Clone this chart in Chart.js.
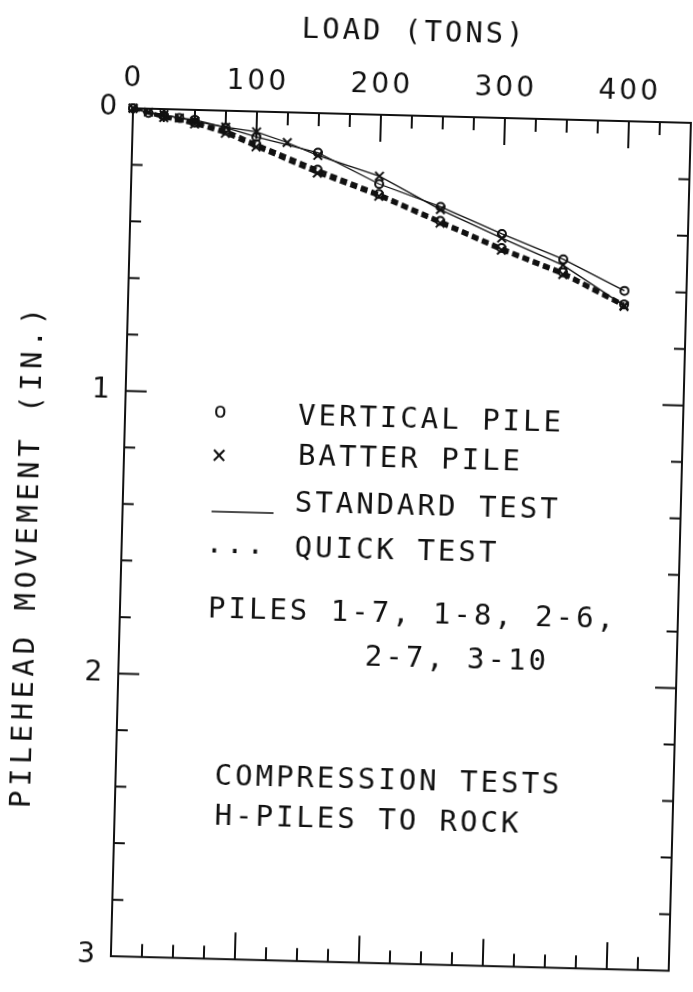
<!DOCTYPE html>
<html>
<head>
<meta charset="utf-8">
<script src="https://cdn.jsdelivr.net/npm/chart.js@4/dist/chart.umd.min.js"></script>
<style>
  html, body { margin: 0; padding: 0; background: #fff; overflow: hidden; }
  #wrap { width: 693px; height: 992px; }
  /* the scanned figure sits slightly skewed on the page */
  #pileChart { transform: rotate(1.5deg); transform-origin: 50% 50%; }
</style>
</head>
<body>
<div id="wrap"><canvas id="pileChart" width="693" height="992"></canvas></div>
<script>
// axis labels
const loadLabels = [0, 100, 200, 300, 400];
const moveLabels = [0, 1, 2, 3];

// vertical pile, standard test (o, thin solid)
const vertStdLoad = [0, 12.5, 25, 37.5, 50, 75, 100, 150, 200, 250, 300, 350, 400];
const vertStdMove = [0, 0.015, 0.022, 0.03, 0.035, 0.06, 0.09, 0.14, 0.245, 0.32, 0.41, 0.494, 0.60];

// batter pile, standard test (x, solid)
const batStdLoad = [0, 12.5, 25, 37.5, 50, 75, 100, 125, 150, 200, 250, 300, 350, 400];
const batStdMove = [0, 0.012, 0.02, 0.03, 0.04, 0.058, 0.072, 0.107, 0.15, 0.217, 0.33, 0.425, 0.515, 0.652];

// vertical pile, quick test (o, heavy dashed)
const vertQkLoad = [0, 25, 50, 75, 100, 150, 200, 250, 300, 350, 400];
const vertQkMove = [0, 0.025, 0.045, 0.07, 0.115, 0.2, 0.28, 0.37, 0.46, 0.54, 0.648];

// batter pile, quick test (x, heavy dashed)
const batQkLoad = [0, 25, 50, 75, 100, 150, 200, 250, 300, 350, 400];
const batQkMove = [0, 0.03, 0.05, 0.08, 0.125, 0.212, 0.288, 0.378, 0.468, 0.548, 0.655];

const ink = '#111';
const mono = "'DejaVu Sans Mono', monospace";

function toPoints(xs, ys) {
  return xs.map((x, i) => ({ x, y: ys[i] }));
}

function series(xs, ys, shape, dashed) {
  return {
    data: toPoints(xs, ys),
    showLine: true,
    borderColor: ink,
    borderWidth: dashed ? 3.5 : 1.3,
    borderDash: dashed ? [7, 4] : [],
    pointStyle: shape,
    pointRadius: shape === 'circle' ? 4 : 6,
    pointBorderWidth: 2,
    pointBorderColor: ink,
    pointBackgroundColor: 'rgba(255,255,255,0)',
    clip: 10
  };
}

// frame and inward tick marks on all four sides
const frameTicks = {
  id: 'frameTicks',
  beforeDraw(chart) {
    chart.ctx.letterSpacing = '3px';
  },
  beforeDatasetsDraw(chart) {
    const { ctx, chartArea: a, scales: { x, y } } = chart;
    ctx.save();
    ctx.strokeStyle = ink;
    ctx.lineWidth = 2;
    ctx.strokeRect(a.left, a.top, a.right - a.left, a.bottom - a.top);
    ctx.beginPath();
    x.ticks.forEach(t => {
      if (t.value <= 0 || t.value >= 450) return;
      const px = x.getPixelForValue(t.value);
      const len = t.value % 100 === 0 ? 27 : 13;
      ctx.moveTo(px, a.top); ctx.lineTo(px, a.top + len);
      ctx.moveTo(px, a.bottom); ctx.lineTo(px, a.bottom - len);
    });
    y.ticks.forEach(t => {
      if (t.value <= 0.01 || t.value >= 2.99) return;
      const py = y.getPixelForValue(t.value);
      const major = Math.abs(t.value - Math.round(t.value)) < 1e-6;
      const len = major ? 21 : 11;
      ctx.moveTo(a.left, py); ctx.lineTo(a.left + len, py);
      ctx.moveTo(a.right, py); ctx.lineTo(a.right - len, py);
    });
    ctx.stroke();
    ctx.restore();
  }
};

// key, notes and the vertical axis title
const notes = {
  id: 'notes',
  afterDraw(chart) {
    const ctx = chart.ctx;
    ctx.save();
    ctx.fillStyle = ink;
    ctx.strokeStyle = ink;
    ctx.letterSpacing = '3px';
    ctx.font = '29px ' + mono;
    ctx.textBaseline = 'alphabetic';
    ctx.textAlign = 'left';
    ctx.fillText('VERTICAL PILE', 296, 426);
    ctx.fillText('BATTER PILE', 297, 466);
    ctx.fillText('STANDARD TEST', 295, 513);
    ctx.fillText('...', 207, 556);
    ctx.fillText('QUICK TEST', 296, 558);
    ctx.fillText('PILES 1-7, 1-8, 2-6,', 211, 621);
    ctx.fillText('2-7, 3-10', 369, 665);
    ctx.fillText('COMPRESSION TESTS', 222, 788);
    ctx.fillText('H-PILES TO ROCK', 223, 828);

    // y title, a bit below the plot's middle as in the original
    ctx.save();
    ctx.translate(30, 566);
    ctx.rotate(-Math.PI / 2);
    ctx.letterSpacing = '4.5px';
    ctx.textAlign = 'center';
    ctx.textBaseline = 'middle';
    ctx.fillText('PILEHEAD MOVEMENT (IN.)', 2, 0);
    ctx.restore();

    ctx.letterSpacing = '0px';
    ctx.textAlign = 'center';
    ctx.font = '22px ' + mono;
    ctx.fillText('o', 218, 421);
    ctx.font = '26px ' + mono;
    ctx.fillText('\u00d7', 218, 467);
    ctx.lineWidth = 1.5;
    ctx.beginPath();
    ctx.moveTo(212, 515);
    ctx.lineTo(274, 515);
    ctx.stroke();
    ctx.restore();
  }
};

new Chart(document.getElementById('pileChart'), {
  type: 'scatter',
  data: {
    datasets: [
      series(vertStdLoad, vertStdMove, 'circle', false),
      series(batStdLoad, batStdMove, 'crossRot', false),
      series(vertQkLoad, vertQkMove, 'circle', true),
      series(batQkLoad, batQkMove, 'crossRot', true)
    ]
  },
  options: {
    responsive: false,
    animation: false,
    layout: { padding: { left: 0, right: 11, top: 0, bottom: 12 } },
    plugins: { legend: { display: false }, tooltip: { enabled: false } },
    scales: {
      x: {
        type: 'linear',
        position: 'top',
        min: 0,
        max: 450,
        grid: { display: false, drawTicks: false },
        border: { display: false },
        ticks: {
          stepSize: 25,
          autoSkip: false,
          maxRotation: 0,
          padding: 12,
          color: ink,
          font: { family: 'DejaVu Sans', size: 28 },
          callback: v => loadLabels.includes(v) ? String(v) : ''
        },
        title: {
          display: true,
          text: 'LOAD (TONS)',
          color: ink,
          font: { family: mono, size: 29 },
          padding: { top: 14, bottom: 0 }
        },
        afterFit: s => { s.height = 114; }
      },
      y: {
        type: 'linear',
        reverse: true,
        min: 0,
        max: 3,
        grid: { display: false, drawTicks: false },
        border: { display: false },
        ticks: {
          stepSize: 0.2,
          autoSkip: false,
          padding: 13,
          color: ink,
          font: { family: 'DejaVu Sans', size: 28 },
          callback: v => {
            const r = Math.round(v);
            return Math.abs(v - r) < 1e-6 && moveLabels.includes(r) ? String(r) : '';
          }
        },
        afterFit: s => { s.width = 123; }
      }
    }
  },
  plugins: [frameTicks, notes]
});
</script>
</body>
</html>
